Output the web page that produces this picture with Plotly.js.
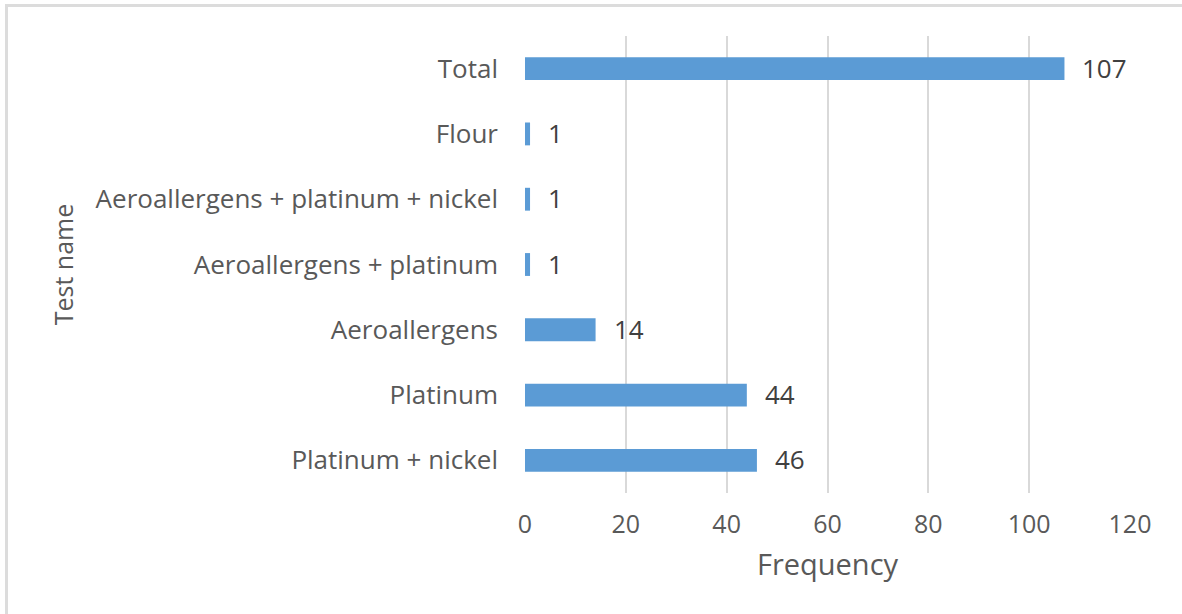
<!DOCTYPE html>
<html>
<head>
<meta charset="utf-8">
<script src="https://cdn.plot.ly/plotly-3.0.1.min.js"></script>
<style>
  html, body { margin: 0; padding: 0; background: #fff; }
  #frame { position: absolute; left: 5px; top: 4px; width: 1177px; height: 610px; border-top: 3px solid #dcdcdc; border-left: 3px solid #dcdcdc; }
  #chart { position: absolute; left: 0; top: 0; width: 1182px; height: 614px; }
</style>
</head>
<body>
<div id="frame"></div>
<div id="chart"></div>
<script>
// Categories listed bottom-to-top (as drawn)
const categories = [
  "Platinum + nickel",
  "Platinum",
  "Aeroallergens",
  "Aeroallergens + platinum",
  "Aeroallergens + platinum + nickel",
  "Flour",
  "Total"
];
const frequency = [46, 44, 14, 1, 1, 1, 107];
const xTicks = [0, 20, 40, 60, 80, 100, 120];

const FONT = "'Open Sans', 'Noto Sans', sans-serif";

const trace = {
  type: "bar",
  orientation: "h",
  x: frequency,
  y: categories,
  marker: { color: "#5B9BD5", line: { width: 0 } },
  hoverinfo: "skip"
};

const annotations = frequency.map((v, i) => ({
  x: v, y: categories[i], xref: "x", yref: "y",
  text: String(v), showarrow: false,
  xanchor: "left", yanchor: "middle", xshift: 16, yshift: 1,
  font: { family: FONT, size: 26, color: "#404040" }
}));

const layout = {
  width: 1182, height: 614,
  paper_bgcolor: "rgba(0,0,0,0)", plot_bgcolor: "rgba(0,0,0,0)",
  margin: { l: 525, r: 52, t: 36, b: 121, pad: 0 },
  bargap: 0.65,
  showlegend: false,
  font: { family: FONT, color: "#595959" },
  xaxis: {
    range: [0, 120],
    tickvals: xTicks,
    ticktext: xTicks.map(String),
    showgrid: true, gridcolor: "#d9d9d9", gridwidth: 2,
    zeroline: false, showline: false, ticks: "",
    tickfont: { family: FONT, size: 25, color: "#595959" },
    ticklabelstandoff: 14,
    title: { text: "Frequency", font: { family: FONT, size: 29, color: "#595959" }, standoff: 15 },
    fixedrange: true
  },
  yaxis: {
    type: "category",
    showgrid: false, zeroline: false, showline: false, ticks: "",
    tickfont: { family: FONT, size: 26, color: "#595959" },
    ticklabelstandoff: 26,
    title: { text: "Test name", font: { family: FONT, size: 25, color: "#595959" }, standoff: 14 },
    fixedrange: true
  },
  annotations: annotations
};

Plotly.newPlot("chart", [trace], layout, { staticPlot: true, displayModeBar: false });
</script>
</body>
</html>
